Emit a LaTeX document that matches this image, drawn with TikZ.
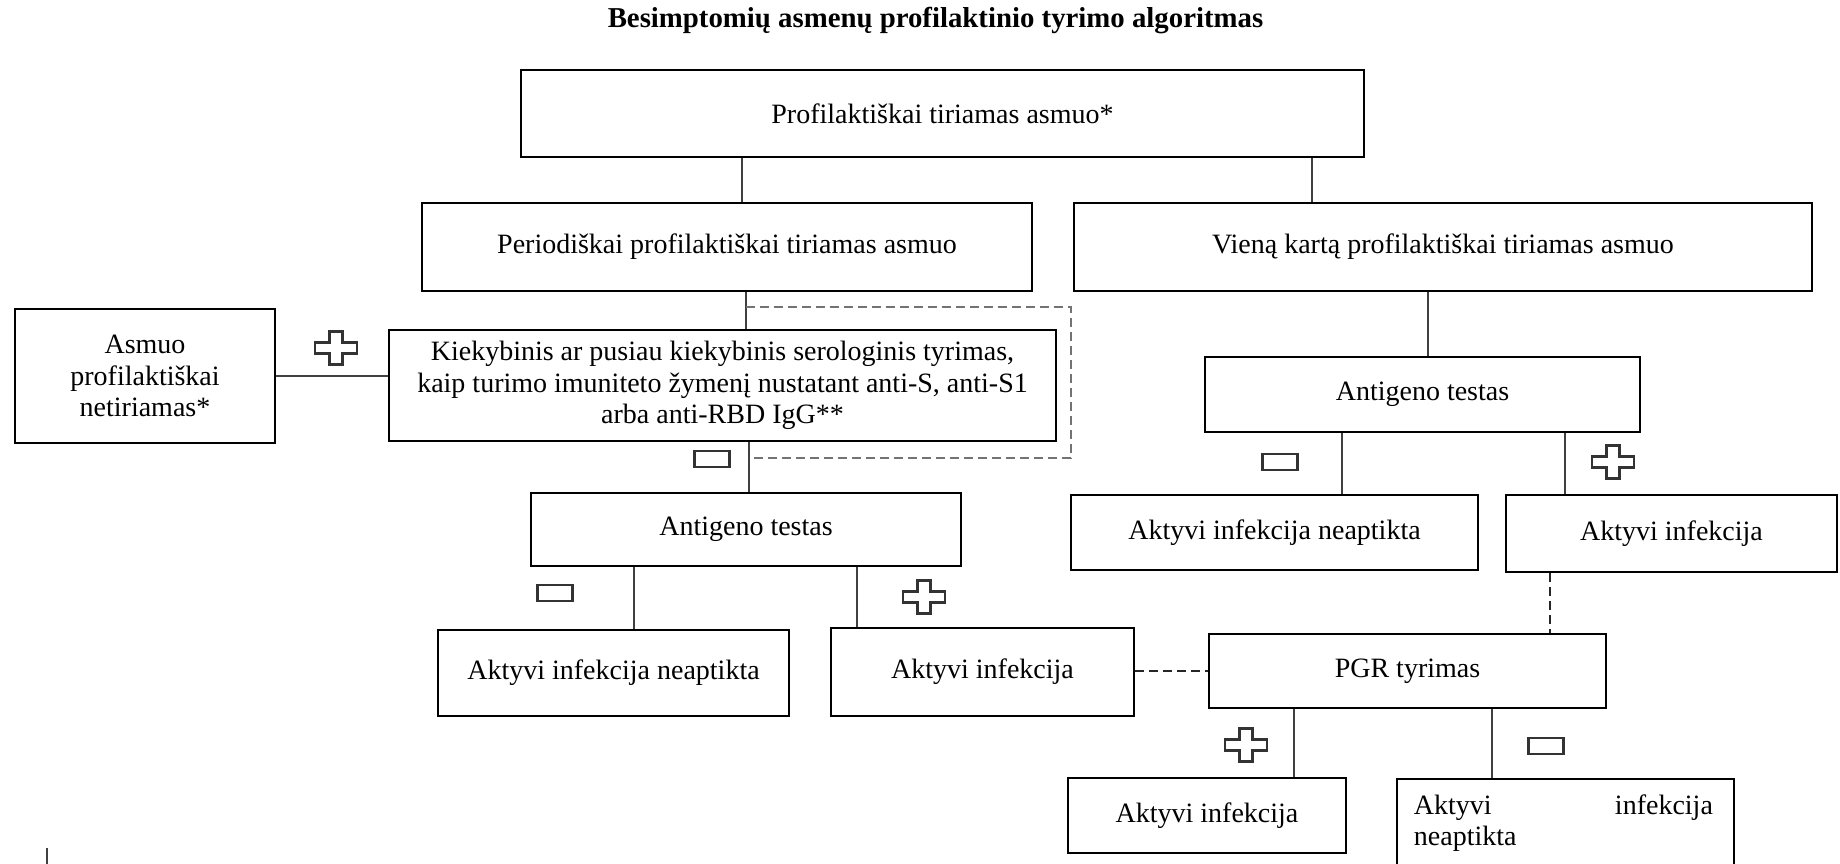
\documentclass[tikz,border=0pt]{standalone}
\usepackage{fontspec}
\setmainfont{Liberation Serif}
\usetikzlibrary{calc}
\newcommand\boxfont{\fontsize{28}{31.5}\selectfont}
\begin{document}
\begin{tikzpicture}[x=1pt,y=-1pt,
  box/.style={draw=black, line width=1.6pt, inner sep=0pt, align=center, font=\boxfont},
  dim/.style 2 args={minimum width=#1pt, minimum height=#2pt},
  conn/.style={draw=black!75, line width=1.5pt},
  dconn/.style={draw=black!85, line width=1.5pt, dash pattern=on 9pt off 5pt},
  gconn/.style={draw=black!55, line width=1.7pt, dash pattern=on 9pt off 5pt},
  sym/.style={draw=black!80, line width=2.2pt, line join=miter},
  plussign/.pic={\draw[sym] (-6.5,-16.5) -- (6.5,-16.5) -- (6.5,-5.5) -- (21,-5.5) -- (21,5.5) -- (6.5,5.5) -- (6.5,16.5) -- (-6.5,16.5) -- (-6.5,5.5) -- (-21,5.5) -- (-21,-5.5) -- (-6.5,-5.5) -- cycle;},
  minussign/.pic={\draw[sym] (-17.5,-8) rectangle (17.5,8);}
]
\useasboundingbox (0,0) rectangle (1840,864);

% title
\node[font=\fontsize{28.8}{32}\selectfont\bfseries, inner sep=0pt, anchor=base] (title) at (935.5,28) {Besimptomių asmenų profilaktinio tyrimo algoritmas};

% boxes
\node[box, dim={843}{87}] (top) at (942.5,113.5) {Profilaktiškai tiriamas asmuo*};
\node[box, dim={610}{88}] (per) at (727,247) {Periodiškai profilaktiškai tiriamas asmuo};
\node[box, dim={738}{88}] (vien) at (1443,247) {Vieną kartą profilaktiškai tiriamas asmuo};
\node[box, dim={260}{134}] (asm) at (145,376) {Asmuo\\profilaktiškai\\netiriamas*};
\node[box, dim={667}{111}] (kiek) at (722.5,385.5) {Kiekybinis ar pusiau kiekybinis serologinis tyrimas,\\kaip turimo imuniteto žymenį nustatant anti-S, anti-S1\\arba anti-RBD IgG**};
\node[box, dim={430}{73}] (ant1) at (746,529.5) {Antigeno testas};
\node[box, dim={351}{86}] (neg1) at (613.5,673) {Aktyvi infekcija neaptikta};
\node[box, dim={303}{88}] (pos1) at (982.5,672) {Aktyvi infekcija};
\node[box, dim={435}{75}] (ant2) at (1422.5,394.5) {Antigeno testas};
\node[box, dim={407}{75}] (neg2) at (1274.5,532.5) {Aktyvi infekcija neaptikta};
\node[box, dim={331}{77}] (pos2) at (1671.5,533.5) {Aktyvi infekcija};
\node[box, dim={397}{74}] (pgr) at (1407.5,671) {PGR tyrimas};
\node[box, dim={278}{75}] (pos3) at (1207,815.5) {Aktyvi infekcija};
\node[box, dim={337}{110}] (neg3) at (1565.5,834) {};
\node[font=\boxfont, inner sep=0pt, text width=299pt, align=left, anchor=north west] (neg3txt) at ($(neg3.north west)+(17.5,16)$) {\hbox to 299pt{Aktyvi\hfil infekcija}\\neaptikta};

% x positions of connectors
\coordinate (xa) at (742,0);
\coordinate (xb) at (1312,0);
\coordinate (xc) at (746,0);
\coordinate (xc2) at (749,0);
\coordinate (xd) at (634,0);
\coordinate (xe) at (857,0);
\coordinate (xf) at (1428,0);
\coordinate (xg) at (1342,0);
\coordinate (xh) at (1565,0);
\coordinate (xi) at (1550,0);
\coordinate (xj) at (1294,0);
\coordinate (xk) at (1492,0);
\coordinate (lpa) at (746,307);
\coordinate (lpb) at (1071,458);
\coordinate (lpc) at (749,458);

% connectors
\draw[conn] (top.south -| xa) -- (per.north -| xa);
\draw[conn] (top.south -| xb) -- (vien.north -| xb);
\draw[conn] (per.south -| xc) -- (kiek.north -| xc);
\draw[conn] (kiek.south -| xc2) -- (ant1.north -| xc2);
\draw[conn] (asm.east) -- (asm.east -| kiek.west);
\draw[gconn] (lpa) -| (lpb) -- (lpc);
\draw[conn] (ant1.south -| xd) -- (neg1.north -| xd);
\draw[conn] (ant1.south -| xe) -- (pos1.north -| xe);
\draw[conn] (vien.south -| xf) -- (ant2.north -| xf);
\draw[conn] (ant2.south -| xg) -- (neg2.north -| xg);
\draw[conn] (ant2.south -| xh) -- (pos2.north -| xh);
\draw[dconn] (pos2.south -| xi) -- (pgr.north -| xi);
\draw[dconn] (pgr.west -| pos1.east) -- (pgr.west);
\draw[conn] (pgr.south -| xj) -- (pos3.north -| xj);
\draw[conn] (pgr.south -| xk) -- (neg3.north -| xk);

% signs
\pic at (336,348) {plussign};
\pic at (712,459) {minussign};
\pic at (555,593) {minussign};
\pic at (924,597) {plussign};
\pic at (1280,462) {minussign};
\pic at (1613,462) {plussign};
\pic at (1246,745) {plussign};
\pic at (1546,746) {minussign};

% stray mark at bottom left
\draw[draw=black!75, line width=2pt] (47,848) -- (47,864);
\end{tikzpicture}
\end{document}
